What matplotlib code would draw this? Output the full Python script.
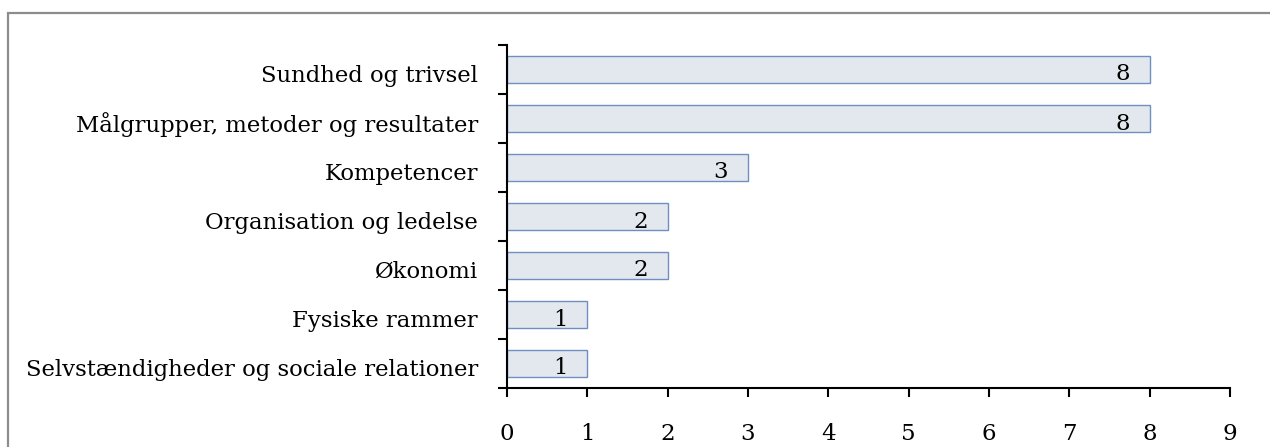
import numpy as np
import matplotlib
matplotlib.use('Agg')
import matplotlib.pyplot as plt
import matplotlib.transforms as mtrans
from matplotlib.patches import Rectangle

CATEGORIES = [
    'Selvstændigheder og sociale relationer',
    'Fysiske rammer',
    'Økonomi',
    'Organisation og ledelse',
    'Kompetencer',
    'Målgrupper, metoder og resultater',
    'Sundhed og trivsel',
]
COUNTS = [1, 1, 2, 2, 3, 8, 8]
XTICKS = list(range(0, 10))

plt.rcParams['font.family'] = ['DejaVu Serif']

fig = plt.figure(figsize=(12.7, 4.47), dpi=100)

# grå ramme om diagrammet (går ud over billedkanten til højre og nederst)
fig.patches.append(Rectangle((8 / 1270, -0.1), 1.2, 1 - 13 / 447 + 0.1,
                             transform=fig.transFigure, fill=False,
                             edgecolor='#8c8c8c', lw=1.6))

ax = fig.add_axes([507 / 1270, 1 - 388 / 447, 723 / 1270, 343 / 447])
y = np.arange(len(CATEGORIES))
ax.barh(y, COUNTS, height=0.57, color='#e3e8ef', edgecolor='#6f8fc0', lw=1.0)

for yi, v in zip(y, COUNTS):
    ax.annotate(str(v), (v, yi), xytext=(-27, -5), textcoords='offset pixels',
                ha='center', va='center', fontsize=16.5)

ax.set_xlim(0, 9)
ax.set_ylim(-0.5, len(CATEGORIES) - 0.5)
ax.set_xticks(XTICKS)
ax.set_yticks(np.arange(-0.5, len(CATEGORIES), 1.0))
ax.set_yticklabels([])
ax.set_yticks(y, minor=True)
ax.set_yticklabels(CATEGORIES, minor=True)
ax.tick_params(axis='y', which='major', length=6.5, width=1.5, direction='out')
ax.tick_params(axis='y', which='minor', length=0, pad=21, labelsize=16.4)
ax.tick_params(axis='x', length=6.5, width=1.5, direction='out', pad=19, labelsize=16.5)

# kategoritekster lidt under bjælkens midte
shift = mtrans.ScaledTranslation(0, -4 / 100, fig.dpi_scale_trans)
for lbl in ax.get_yticklabels(minor=True):
    lbl.set_transform(lbl.get_transform() + shift)

for s in ['top', 'right']:
    ax.spines[s].set_visible(False)
for s in ['left', 'bottom']:
    ax.spines[s].set_linewidth(1.5)

fig.savefig('out.png', dpi=100)
